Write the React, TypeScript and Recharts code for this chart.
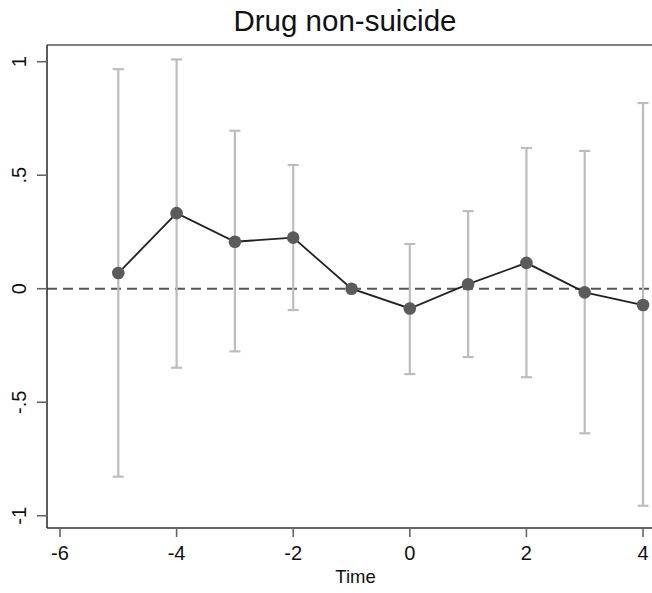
import React from 'react';
import { LineChart, Line, XAxis, YAxis, ErrorBar, ReferenceLine } from 'recharts';

// event-time coefficients
const times = [-5, -4, -3, -2, -1, 0, 1, 2, 3, 4];
const estimates = [0.069, 0.333, 0.207, 0.225, 0, -0.087, 0.02, 0.114, -0.016, -0.072];
const ciLow = [-0.828, -0.348, -0.276, -0.094, 0, -0.376, -0.301, -0.39, -0.637, -0.956];
const ciHigh = [0.967, 1.01, 0.696, 0.545, 0, 0.197, 0.342, 0.62, 0.607, 0.818];

const xTicks = [-6, -4, -2, 0, 2, 4];
const yTicks = [-1, -0.5, 0, 0.5, 1];
const yTickLabels = ['-1', '-.5', '0', '.5', '1'];

const X_DOMAIN: [number, number] = [-6.223, 4.154];
const Y_DOMAIN: [number, number] = [-1.054, 1.0736];

const FONT = '"Liberation Sans", Arial, Helvetica, sans-serif';

const data = times.map((t, i) => ({
  time: t,
  est: estimates[i],
  err: [estimates[i] - ciLow[i], ciHigh[i] - estimates[i]],
}));

const YTick = (props: any) => {
  const { y, payload } = props;
  const idx = yTicks.indexOf(payload.value);
  const bx = 26.5;
  return (
    <text
      x={bx}
      y={y}
      transform={`rotate(-90, ${bx}, ${y})`}
      textAnchor="middle"
      fontSize={20}
      fontFamily={FONT}
      fill="#111"
    >
      {idx >= 0 ? yTickLabels[idx] : payload.value}
    </text>
  );
};

export default function App() {
  return (
    <div style={{ position: 'absolute', left: 0, top: 0, width: 652, height: 593, background: '#fff' }}>
      <div
        style={{
          position: 'absolute', left: 0, top: 4, width: 690, textAlign: 'center',
          fontFamily: FONT, fontSize: 29.5, color: '#111', lineHeight: '34px',
        }}
      >
        Drug non-suicide
      </div>
      <LineChart width={652} height={593} data={data} margin={{ top: 45, right: 0, bottom: 0, left: 0 }}>
        <XAxis
          dataKey="time"
          type="number"
          domain={X_DOMAIN}
          allowDataOverflow
          ticks={xTicks}
          height={65}
          stroke="#333"
          strokeWidth={1.6}
          tickSize={9}
          tickMargin={8.5}
          tickLine={{ stroke: '#666', strokeWidth: 1.6 }}
          tick={{ fontSize: 20, fontFamily: FONT, fill: '#111' }}
          label={{ value: 'Time', position: 'insideBottom', offset: 10, dx: 6, fontSize: 18.5, fontFamily: FONT, fill: '#111' }}
        />
        <YAxis
          type="number"
          domain={Y_DOMAIN}
          allowDataOverflow
          ticks={yTicks}
          width={47}
          stroke="#333"
          strokeWidth={1.6}
          tickSize={10}
          tickLine={{ stroke: '#666', strokeWidth: 1.6 }}
          tick={<YTick />}
        />
        <ReferenceLine y={Y_DOMAIN[1]} stroke="#555" strokeWidth={1.6} />
        <ReferenceLine y={0} stroke="#555" strokeWidth={2} strokeDasharray="10 6" />
        <Line
          dataKey="est"
          stroke="#222"
          strokeWidth={1.8}
          dot={{ r: 6.3, fill: '#5b5b5b', stroke: '#5b5b5b', strokeWidth: 0 }}
          activeDot={false}
          isAnimationActive={false}
        >
          <ErrorBar dataKey="err" direction="y" width={5.5} stroke="#bdbdbd" strokeWidth={2.2} isAnimationActive={false} />
        </Line>
      </LineChart>
    </div>
  );
}
